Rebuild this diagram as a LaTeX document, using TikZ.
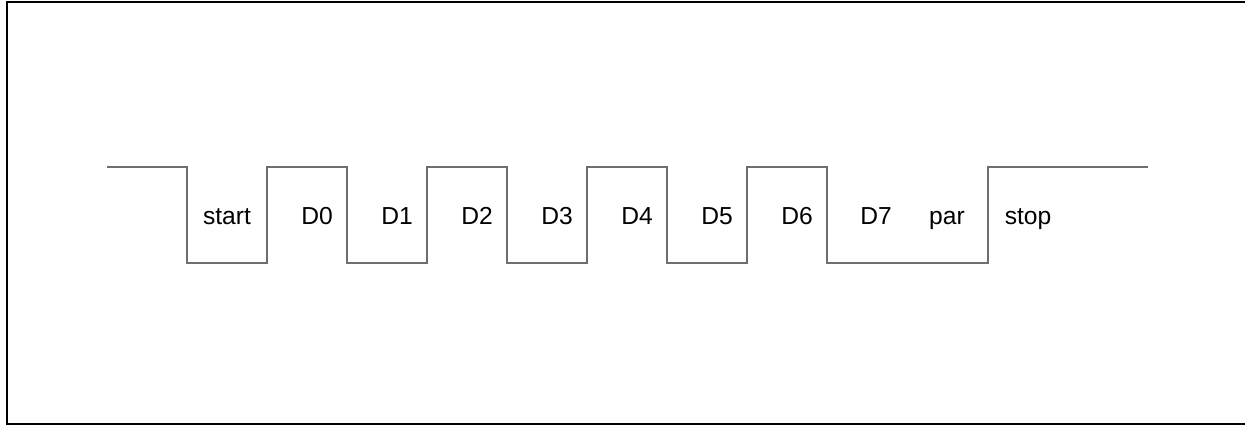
\documentclass[tikz,border=0pt]{standalone}
\usepackage{fontspec}
\setmainfont{Liberation Sans}
\begin{document}
\begin{tikzpicture}[x=0.5pt,y=-0.5pt,
  wave/.style={draw=black!57, line width=0.75pt, line join=miter},
  frameline/.style={draw=black, line width=1pt},
  bitlabel/.style={anchor=base, inner sep=0pt, font=\fontsize{12.3}{14}\selectfont}]
\useasboundingbox (0,0) rectangle (1245,425);
% frame (open on the right)
\draw[frameline] (1250,2.2) -- (7,2.2) -- (7,423.5) -- (1250,423.5);
% waveform
\draw[wave] (107,167) -- (187,167) -- (187,263) -- (267,263) -- (267,167)
  -- (347,167) -- (347,263) -- (427,263) -- (427,167) -- (507,167)
  -- (507,263) -- (587,263) -- (587,167) -- (667,167) -- (667,263)
  -- (747,263) -- (747,167) -- (827,167) -- (827,263) -- (988,263)
  -- (988,167) -- (1148,167);
% labels
\node[bitlabel] (lstart) at (227,224.3) {start};
\node[bitlabel] (ld0) at (317,224.3) {D0};
\node[bitlabel] (ld1) at (397,224.3) {D1};
\node[bitlabel] (ld2) at (477,224.3) {D2};
\node[bitlabel] (ld3) at (557,224.3) {D3};
\node[bitlabel] (ld4) at (637,224.3) {D4};
\node[bitlabel] (ld5) at (717,224.3) {D5};
\node[bitlabel] (ld6) at (797,224.3) {D6};
\node[bitlabel] (ld7) at (876,224.3) {D7};
\node[bitlabel] (lpar) at (947,224.3) {par};
\node[bitlabel] (lstop) at (1028,224.3) {stop};
\end{tikzpicture}
\end{document}
